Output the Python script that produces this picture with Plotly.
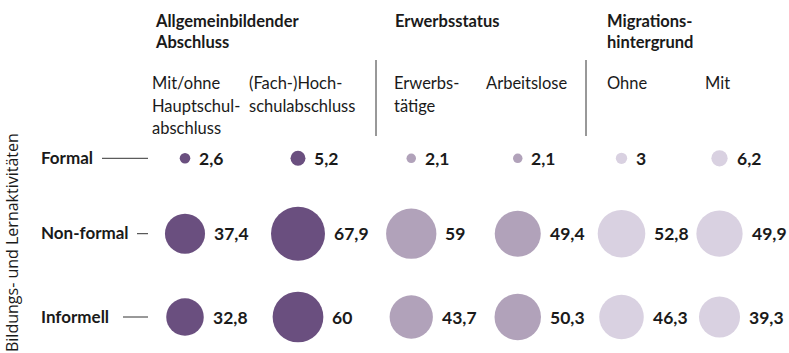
import math
import plotly.graph_objects as go

# Activity types (rows) and population groups (columns)
rows = ["Formal", "Non-formal", "Informell"]
group_titles = [["Allgemeinbildender", "Abschluss"], ["Erwerbsstatus"], ["Migrations-", "hintergrund"]]
columns = [
    ["Mit/ohne Hauptschulabschluss", "(Fach-)Hochschulabschluss"],
    ["Erwerbstätige", "Arbeitslose"],
    ["Ohne", "Mit"],
]
column_labels = [
    [["Mit/ohne", "Hauptschul-", "abschluss"], ["(Fach-)Hoch-", "schulabschluss"]],
    [["Erwerbs-", "tätige"], ["Arbeitslose"]],
    [["Ohne"], ["Mit"]],
]

# Participation shares in percent, one list per row, ordered like the columns
formal = [2.6, 5.2, 2.1, 2.1, 3, 6.2]
non_formal = [37.4, 67.9, 59, 49.4, 52.8, 49.9]
informell = [32.8, 60, 43.7, 50.3, 46.3, 39.3]
values = [formal, non_formal, informell]

y_title = "Bildungs- und Lernaktivitäten"

# ---- styling / layout ----
W, H = 789, 353
group_colors = ["#6a4f7f", "#b1a2ba", "#d9d1e1"]
text_color = "#1a1a1a"
FONT = "Lato"
K = 6.55                      # bubble diameter in px per sqrt(value)
SIZEREF = 2 / K ** 2          # plotly area mode: radius^2 = v / (2*sizeref)
group_domains_px = [(128.5, 354.5), (358, 571), (572.5, 768.5)]
row_centers_px = [158.3, 233.7, 317]
row_label_x = 41
row_line_end = 148
row_line_start = [102, 137, 123]
separators_x = [376, 586]
header_x = [155, 395, 607]
sub_x = [[152, 249], [394, 486], [607, 705]]


def px(x):
    return x / W


def py(y):
    return 1 - y / H


def fmt(v):
    return f"{v:g}".replace(".", ",")


fig = go.Figure()
annotations = []
shapes = []

layout_axes = {}
for g, (x0, x1) in enumerate(group_domains_px):
    name = "xaxis" if g == 0 else f"xaxis{g + 1}"
    layout_axes[name] = dict(
        domain=[px(x0), px(x1)], type="category", categoryarray=columns[g],
        range=[-0.5, 1.5], visible=False, anchor="y",
    )
for r, cy in enumerate(row_centers_px):
    name = "yaxis" if r == 0 else f"yaxis{r + 1}"
    layout_axes[name] = dict(
        domain=[py(cy + 10), py(cy - 10)], type="category", categoryarray=[rows[r]],
        range=[-0.5, 0.5], visible=False, anchor="x",
    )

for g in range(3):
    xref = "x" if g == 0 else f"x{g + 1}"
    for r in range(3):
        yref = "y" if r == 0 else f"y{r + 1}"
        vals = values[r][2 * g: 2 * g + 2]
        fig.add_trace(go.Scatter(
            x=columns[g], y=[rows[r]] * 2, xaxis=xref, yaxis=yref,
            mode="markers", cliponaxis=False, hoverinfo="skip",
            marker=dict(size=vals, sizemode="area", sizeref=SIZEREF, sizemin=0,
                        color=group_colors[g], opacity=1, line=dict(width=0)),
        ))
        for c, v in zip(columns[g], vals):
            annotations.append(dict(
                x=c, y=rows[r], xref=xref, yref=yref, text=f"<b>{fmt(v)}</b>",
                showarrow=False, xanchor="left", yanchor="middle",
                xshift=K * math.sqrt(v) / 2 + 7,
                font=dict(family=FONT, size=17.5, color=text_color),
            ))


def add_lines(lines, x, y_first, step, size, bold):
    for i, t in enumerate(lines):
        annotations.append(dict(
            x=px(x), y=py(y_first + i * step), xref="paper", yref="paper",
            text=f"<b>{t}</b>" if bold else t, showarrow=False,
            xanchor="left", yanchor="middle",
            font=dict(family=FONT, size=size, color=text_color),
        ))


# group headers and column labels
for g in range(3):
    add_lines(group_titles[g], header_x[g] - 2, 21, 21, 16.5, True)
    for k in range(2):
        add_lines(column_labels[g][k], sub_x[g][k] - 2, 83, 22.5, 16.5, False)

# row labels with leader lines
for r in range(3):
    yref = "y" if r == 0 else f"y{r + 1}"
    annotations.append(dict(
        x=px(row_label_x - 2), y=rows[r], xref="paper", yref=yref,
        text=f"<b>{rows[r]}</b>", showarrow=False, xanchor="left", yanchor="middle",
        yshift=1, font=dict(family=FONT, size=17, color=text_color),
    ))
    shapes.append(dict(
        type="line", xref="paper", yref=yref,
        x0=px(row_line_start[r]), x1=px(row_line_end), y0=rows[r], y1=rows[r],
        line=dict(color="#333333", width=1),
    ))

# vertical separators between groups
for sx in separators_x:
    shapes.append(dict(
        type="line", xref="paper", yref="paper",
        x0=px(sx), x1=px(sx), y0=py(60), y1=py(136),
        line=dict(color="#333333", width=1),
    ))

# rotated axis title
annotations.append(dict(
    x=px(12), y=py(243), xref="paper", yref="paper", text=y_title,
    showarrow=False, textangle=-90, xanchor="center", yanchor="middle",
    font=dict(family="Open Sans", size=16, color=text_color),
))

fig.update_layout(
    width=W, height=H, margin=dict(l=0, r=0, t=0, b=0),
    paper_bgcolor="white", plot_bgcolor="white", showlegend=False,
    annotations=annotations, shapes=shapes, **layout_axes,
)

fig.write_html("out.html", config={"displayModeBar": False})
